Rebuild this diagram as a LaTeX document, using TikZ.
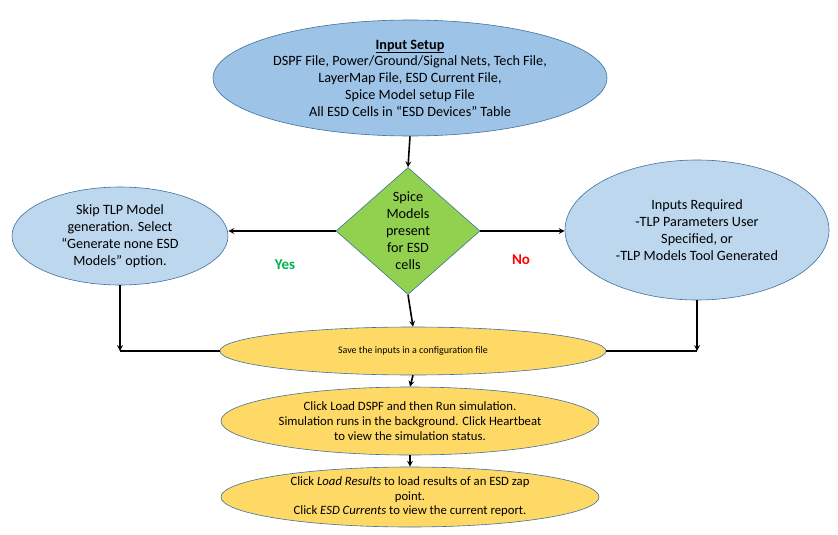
\documentclass[tikz,border=0pt]{standalone}
\usepackage{fontspec}
\setmainfont{Carlito}
\usetikzlibrary{shapes.geometric}

\definecolor{setupblue}{HTML}{9DC3E6}
\definecolor{lightblue}{HTML}{BDD7EE}
\definecolor{stepgreen}{HTML}{92D050}
\definecolor{stepyellow}{HTML}{FFD966}
\definecolor{rimblue}{HTML}{41719C}
\definecolor{yesgreen}{HTML}{00B050}

\tikzset{
  oval/.style={ellipse, draw=rimblue, line width=0.6pt, inner sep=0pt, align=center},
  flow/.style={->, line width=1.6pt},
  joint/.style={line width=1.6pt}
}

\begin{document}
\begin{tikzpicture}[x=1pt, y=-1pt, >=stealth]
    \useasboundingbox (0,0) rectangle (838,535);

    \node[oval, fill=setupblue, minimum width=394pt, minimum height=116pt,
          font=\fontsize{14.2}{16.8}\selectfont] (setup) at (410,78) {%
      \underline{\textbf{Input Setup}}\\
      DSPF File, Power/Ground/Signal Nets, Tech File,\\
      LayerMap File, ESD Current File,\\
      Spice Model setup File\\
      All ESD Cells in “ESD Devices” Table};

    \node[diamond, draw=rimblue, line width=0.6pt, fill=stepgreen, inner sep=0pt,
          minimum width=144pt, minimum height=127pt, align=center,
          font=\fontsize{14.2}{17}\selectfont] (spice) at (408,231) {%
      Spice\\ Models\\ present\\ for ESD\\ cells};

    \node[oval, fill=lightblue, minimum width=216pt, minimum height=98pt,
          font=\fontsize{14.2}{17}\selectfont] (skip) at (120,236) {%
      Skip TLP Model\\ generation. Select\\ “Generate none ESD\\ Models” option.};

    \node[oval, fill=lightblue, minimum width=264pt, minimum height=140pt,
          font=\fontsize{14.2}{17}\selectfont] (inputs) at (697,230) {%
      Inputs Required\\ -TLP Parameters User\\ Specified, or\\ -TLP Models Tool Generated};

    \node[oval, fill=stepyellow, minimum width=386pt, minimum height=48pt,
          font=\fontsize{10}{12}\selectfont] (save) at (413,351) {%
      Save the inputs in a configuration file};

    \node[oval, fill=stepyellow, minimum width=378pt, minimum height=68pt,
          font=\fontsize{12.7}{15.3}\selectfont] (run) at (410,421) {%
      Click Load DSPF and then Run simulation.\\
      Simulation runs in the background. Click Heartbeat\\
      to view the simulation status.};

    \node[oval, fill=stepyellow, minimum width=378pt, minimum height=60pt,
          font=\fontsize{12.7}{14.5}\selectfont] (results) at (410,497) {%
      Click \textit{Load Results} to load results of an ESD zap\\
      point.\\
      Click \textit{ESD Currents} to view the current report.};

    \node[font=\fontsize{15}{17}\selectfont\bfseries, text=yesgreen] (yes) at (285,265) {Yes};
    \node[font=\fontsize{15}{17}\selectfont\bfseries, text=red] (no) at (521,260) {No};

    \path (setup.south)  edge[flow] (spice.north)
          (spice.west)   edge[flow] (spice.west -| skip.east)
          (spice.east)   edge[flow] (spice.east -| inputs.west)
          (spice.south)  edge[flow] (save.north)
          (save.south)   edge[flow] (run.north)
          (run.south)    edge[flow] (results.north);

    \draw[flow] (skip.south) -- (skip.south |- save.west);
    \draw[joint] (save.west) -- (skip.south |- save.west);
    \draw[flow] (inputs.south) -- (inputs.south |- save.east);
    \draw[joint] (save.east) -- (inputs.south |- save.east);
\end{tikzpicture}
\end{document}
